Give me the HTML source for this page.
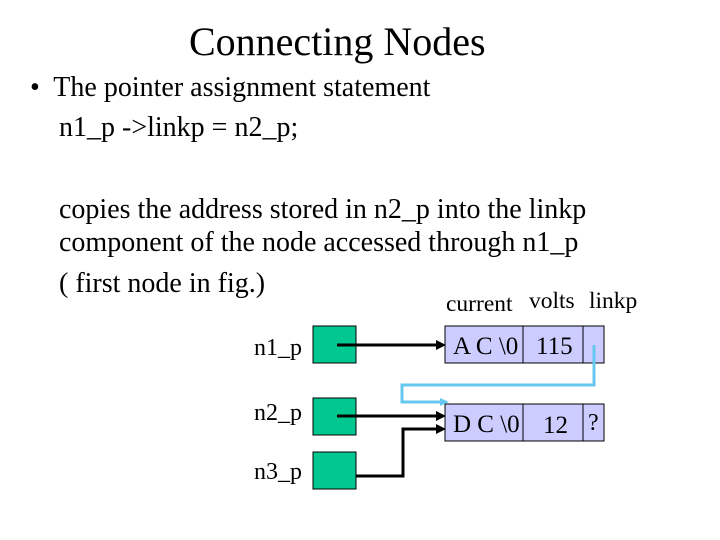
<!DOCTYPE html>
<html><head><style>
body{margin:0;width:720px;height:540px;background:#fff;overflow:hidden;position:relative;font-family:"Liberation Serif",serif;color:#000}
.t{position:absolute;white-space:nowrap;line-height:1}
</style></head><body>
<div class="t" style="left:189px;top:22px;font-size:40px">Connecting Nodes</div>
<div class="t" style="left:30px;top:74px;font-size:28px">•&nbsp; The pointer assignment statement</div>
<div class="t" style="left:59px;top:114px;font-size:28px">n1_p -&gt;linkp = n2_p;</div>
<div class="t" style="left:59px;top:196px;font-size:28px">copies the address stored in n2_p into the linkp</div>
<div class="t" style="left:59px;top:229px;font-size:28px">component of the node accessed through n1_p</div>
<div class="t" style="left:59px;top:270px;font-size:28px">( first node in fig.)</div>
<svg width="720" height="540" style="position:absolute;left:0;top:0" font-family="Liberation Serif, serif">
<text x="446" y="311" font-size="23.5">current</text>
<text x="529" y="308" font-size="23.5">volts</text>
<text x="589" y="308" font-size="23.5">linkp</text>
<text x="254" y="355" font-size="24">n1_p</text>
<text x="254" y="420" font-size="24">n2_p</text>
<text x="254" y="479" font-size="24">n3_p</text>
<g fill="#00c890" stroke="#000" stroke-width="1">
<rect x="313" y="326" width="43" height="37"/>
<rect x="313" y="398" width="43" height="37"/>
<rect x="313" y="452" width="43" height="37"/>
</g>
<g fill="#ccccff" stroke="#000" stroke-width="1">
<rect x="445" y="326" width="159" height="37"/>
<line x1="523" y1="326" x2="523" y2="363"/><line x1="583" y1="326" x2="583" y2="363"/>
<rect x="445" y="404" width="159" height="37"/>
<line x1="523" y1="404" x2="523" y2="441"/><line x1="583" y1="404" x2="583" y2="441"/>
</g>
<text x="453" y="354" font-size="25">A C \0</text>
<text x="536" y="354" font-size="25">115</text>
<text x="453" y="432" font-size="25">D C \0</text>
<text x="543" y="433" font-size="25">12</text>
<text x="588" y="430" font-size="24">?</text>
<g stroke="#000" stroke-width="3" fill="none">
<line x1="337" y1="345" x2="438" y2="345"/>
<line x1="337" y1="416" x2="438" y2="416"/>
<polyline points="356,476 403,476 403,429 438,429"/>
</g>
<g fill="#000">
<polygon points="446,345 436,340 436,350"/>
<polygon points="446,416 436,411 436,421"/>
<polygon points="446,429 436,424 436,434"/>
</g>
<polyline points="594,345 594,385 402,385 402,402 442,402" stroke="#66c8f0" stroke-width="3" fill="none"/>
<polygon points="449,402 440,398 440,406" fill="#66c8f0"/>
</svg>
</body></html>
